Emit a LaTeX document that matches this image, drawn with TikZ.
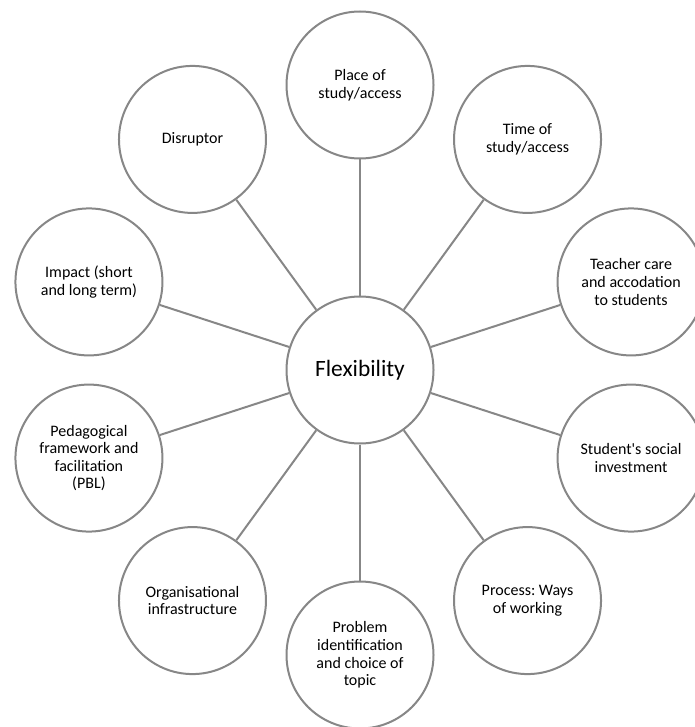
\documentclass[tikz,border=0pt]{standalone}
\usepackage{fontspec}
\setmainfont{Carlito}[Ligatures=TeXOff]
\definecolor{ringgray}{HTML}{878787}
\frenchspacing
\begin{document}
\begin{tikzpicture}[x=1pt,y=-1pt,
  ring/.style={circle,draw=ringgray,line width=2pt,fill=white,minimum size=147pt,inner sep=0pt,align=center,font=\fontsize{16}{17.6}\selectfont},
  hub/.style={ring,font=\fontsize{23.4}{27}\selectfont},
  spoke/.style={draw=ringgray,line width=2pt}]
\useasboundingbox (0,0) rectangle (694,727);
\node[hub] (c) at (360,370) {Flexibility};
\node[ring] (n1) at ({360+285*cos(90)},{370-285*sin(90)}) {Place of\\study/access};
\node[ring] (n2) at ({360+285*cos(54)},{370-285*sin(54)}) {Time of\\study/access};
\node[ring] (n3) at ({360+285*cos(18)},{370-285*sin(18)}) {Teacher care\\and accodation\\to students};
\node[ring] (n4) at ({360+285*cos(-18)},{370-285*sin(-18)}) {Student's social\\investment};
\node[ring] (n5) at ({360+285*cos(-54)},{370-285*sin(-54)}) {Process: Ways\\of working};
\node[ring] (n6) at ({360+285*cos(-90)},{370-285*sin(-90)}) {Problem\\identification\\and choice of\\topic};
\node[ring] (n7) at ({360+285*cos(-126)},{370-285*sin(-126)}) {Organisational\\infrastructure};
\node[ring] (n8) at ({360+285*cos(-162)},{370-285*sin(-162)}) {Pedagogical\\framework and\\facilitation\\(PBL)};
\node[ring] (n9) at ({360+285*cos(162)},{370-285*sin(162)}) {Impact (short\\and long term)};
\node[ring] (n10) at ({360+285*cos(126)},{370-285*sin(126)}) {Disruptor};
\foreach \i in {1,...,10} {\draw[spoke] (c) -- (n\i);}
\end{tikzpicture}
\end{document}
